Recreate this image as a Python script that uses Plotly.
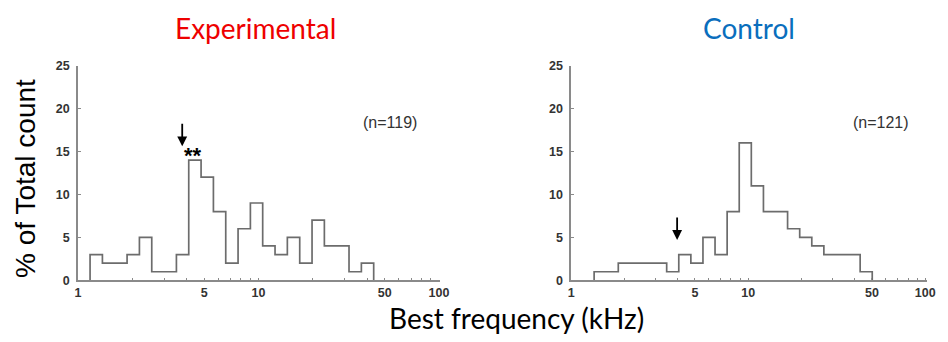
import math
import plotly.graph_objects as go

# ---- data ----
exp_edges_khz = [1.167, 1.366, 1.599, 1.871, 2.190, 2.563, 2.999, 3.510, 4.108, 4.808,
                 5.627, 6.585, 7.707, 9.018, 10.55, 12.35, 14.45, 16.92, 19.80, 23.17,
                 27.12, 31.73, 37.14, 43.46]
exp_pct = [3, 2, 2, 3, 5, 1, 1, 3, 14, 12, 8, 2, 6, 9, 4, 3, 5, 2, 7, 4, 4, 1, 2]

ctl_edges_khz = [1.349, 1.578, 1.847, 2.162, 2.531, 2.961, 3.466, 4.057, 4.747, 5.556,
                 6.501, 7.608, 8.904, 10.42, 12.20, 14.27, 16.70, 19.55, 22.88, 26.77,
                 31.33, 36.67, 42.91, 50.22]
ctl_pct = [1, 1, 2, 2, 2, 2, 1, 3, 2, 5, 3, 8, 16, 11, 8, 8, 6, 5, 4, 3, 3, 3, 1]

x_tickvals = [1, 5, 10, 50, 100]
x_ticktext = ["1", "5", "10", "50", "100"]
x_minor = [2, 3, 4, 6, 7, 8, 9, 20, 30, 40, 60, 70, 80, 90]
y_tickvals = [0, 5, 10, 15, 20, 25]

titles = ["Experimental", "Control"]
title_colors = ["#ee0000", "#0a6ebd"]
n_labels = ["(n=119)", "(n=121)"]
arrow_khz = [3.78, 3.97]
arrow_tip_pct = [15.6, 4.7]
stars_khz = 4.33
stars_pct = 14.55

W, H = 948, 342


def outline(edges, vals):
    xs = [edges[0]] + list(edges)
    ys = [0] + list(vals) + [0]
    return xs, ys


line_col = "#6c6c6c"
fig = go.Figure()
for i, (edges, vals) in enumerate([(exp_edges_khz, exp_pct), (ctl_edges_khz, ctl_pct)]):
    xs, ys = outline(edges, vals)
    sfx = "" if i == 0 else "2"
    fig.add_trace(go.Scatter(x=xs, y=ys, mode="lines",
                             line=dict(shape="hv", color=line_col, width=1.7),
                             xaxis="x" + sfx, yaxis="y" + sfx,
                             showlegend=False, hoverinfo="skip"))

tickfont = dict(family="Liberation Sans, Arial", size=12.5, color="#333333", weight="bold")


def px(x):
    return x / W


def py(y):
    return 1 - y / H


ydom = [py(285), py(61)]


def xaxis(dom, rng, anchor):
    return dict(type="log", range=rng, domain=dom, anchor=anchor,
                showline=True, linecolor="#8a8a8a", linewidth=1.5,
                ticks="inside", ticklen=3, tickcolor="#8a8a8a",
                tickvals=x_tickvals, ticktext=x_ticktext,
                minor=dict(tickvals=x_minor, ticks="inside", ticklen=3, tickcolor="#8a8a8a"),
                showgrid=False, zeroline=False, tickfont=tickfont, ticklabelstandoff=0)


def yaxis(anchor):
    return dict(range=[0, 25], domain=ydom, anchor=anchor,
                showline=True, linecolor="#8a8a8a", linewidth=1.5,
                ticks="inside", ticklen=3, tickcolor="#8a8a8a",
                tickvals=y_tickvals, showgrid=False, zeroline=False,
                tickfont=tickfont, ticklabelstandoff=4)


fig.update_layout(
    width=W, height=H,
    margin=dict(l=0, r=0, t=0, b=0),
    paper_bgcolor="white", plot_bgcolor="white",
    xaxis=xaxis([px(76), px(443)], [0, 2.005], "y"),
    yaxis=yaxis("x"),
    xaxis2=xaxis([px(576), px(937)], [0, 2.011], "y2"),
    yaxis2=yaxis("x2"),
)

ann = []
title_x = [256, 756]
for i in range(2):
    ann.append(dict(text=titles[i], xref="paper", yref="paper", x=px(title_x[i]), y=py(22),
                    xanchor="center", yanchor="middle",
                    showarrow=False, font=dict(family="Lato", size=28, color=title_colors[i])))
n_x = [392, 890]
for i in range(2):
    ann.append(dict(text=n_labels[i], xref="paper", yref="paper", x=px(n_x[i]), y=py(120),
                    xanchor="center", yanchor="middle",
                    showarrow=False, font=dict(family="Liberation Sans, Arial", size=16, color="#333333")))
for i in range(2):
    sfx = "" if i == 0 else "2"
    ann.append(dict(text="", x=math.log10(arrow_khz[i]), y=arrow_tip_pct[i],
                    xref="x" + sfx, yref="y" + sfx, showarrow=True,
                    ax=0, ay=-24, arrowhead=2, arrowsize=1.1, arrowwidth=1.8,
                    arrowcolor="black", standoff=0))
ann.append(dict(text="<b>**</b>", x=math.log10(stars_khz), y=stars_pct, xref="x", yref="y",
                showarrow=False, xanchor="center", yanchor="middle",
                font=dict(family="Liberation Sans, Arial", size=22, color="black")))
ann.append(dict(text="% of Total count", xref="paper", yref="paper", x=px(23), y=py(178.5),
                xanchor="center", yanchor="middle",
                textangle=-90, showarrow=False,
                font=dict(family="Liberation Sans, Arial", size=28, color="black")))
ann.append(dict(text="Best frequency (kHz)", xref="paper", yref="paper", x=px(521), y=py(324),
                xanchor="center", yanchor="middle",
                showarrow=False, font=dict(family="Lato", size=28, color="black")))
fig.update_layout(annotations=ann)

fig.write_html("out.html", config={"displayModeBar": False},
               post_script="document.body.style.margin='0';document.body.style.overflow='hidden';")
